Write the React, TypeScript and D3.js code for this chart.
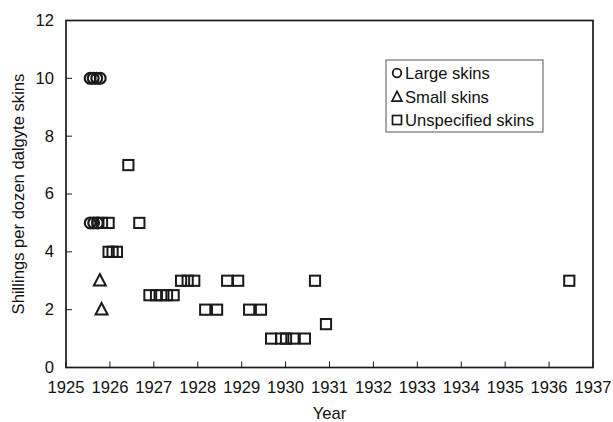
import React from "react";
import * as d3 from "d3";

const largeYears = [1925.55, 1925.62, 1925.7, 1925.78, 1925.55, 1925.63, 1925.72];
const largeValues = [10, 10, 10, 10, 5, 5, 5];

const smallYears = [1925.77, 1925.81];
const smallValues = [3, 2];

const unspecYears = [
  1925.72, 1925.82, 1925.97,
  1925.97, 1926.06, 1926.16,
  1926.42, 1926.67,
  1926.9, 1927.05, 1927.17, 1927.3, 1927.45,
  1927.62, 1927.77, 1927.92,
  1928.17, 1928.44,
  1928.67, 1928.92,
  1929.17, 1929.44,
  1929.67, 1929.9, 1930.01, 1930.18, 1930.44,
  1930.67, 1930.92,
  1936.46,
];
const unspecValues = [
  5, 5, 5,
  4, 4, 4,
  7, 5,
  2.5, 2.5, 2.5, 2.5, 2.5,
  3, 3, 3,
  2, 2,
  3, 3,
  2, 2,
  1, 1, 1, 1, 1,
  3, 1.5,
  3,
];

const xTicks = d3.range(1925, 1938, 1);
const yTicks = [0, 2, 4, 6, 8, 10, 12];
const legendLabels = ["Large skins", "Small skins", "Unspecified skins"];

const W = 613;
const H = 422;
const FONT = "'Liberation Sans', Arial, Helvetica, sans-serif";
const INK = "#1a1a1a";
const TXT = "#111";
const FS = 16.6;

export default function App() {
  const x = d3.scaleLinear().domain([1925, 1937]).range([66, 593]);
  const y = d3.scaleLinear().domain([0, 12]).range([367.5, 20.5]);
  const [x0, x1] = x.range();
  const [y0, y1] = y.range();

  const sq = 10.2;
  const tri = (cx: number, cy: number, s: number) => {
    const h = s * 0.9;
    return `M${cx},${cy - h * 0.62} L${cx + s / 2},${cy + h * 0.45} L${cx - s / 2},${cy + h * 0.45} Z`;
  };

  const legendX = 386;
  const legendY = 60;
  const legendRows = [73, 97, 120];

  return (
    <svg
      width={W}
      height={H}
      style={{ position: "absolute", left: 0, top: 0, background: "#fff" }}
      fontFamily={FONT}
    >
      <rect x={0} y={0} width={W} height={H} fill="#fff" />
      {/* frame */}
      <rect x={x0} y={y1} width={x1 - x0} height={y0 - y1} fill="none" stroke={INK} strokeWidth={1.7} />
      {/* y ticks */}
      {yTicks.map((t) => (
        <g key={"y" + t}>
          <line x1={x0} x2={x0 + 6} y1={y(t)} y2={y(t)} stroke={INK} strokeWidth={1} />
          <text x={x0 - 12} y={y(t)} dy="0.33em" textAnchor="end" fontSize={FS} fill={TXT}>
            {t}
          </text>
        </g>
      ))}
      {/* x ticks */}
      {xTicks.map((t) => (
        <g key={"x" + t}>
          <line x1={x(t)} x2={x(t)} y1={y0} y2={y0 - 6} stroke={INK} strokeWidth={1} />
          <text x={x(t)} y={y0 + 25} textAnchor="middle" fontSize={FS} fill={TXT}>
            {t}
          </text>
        </g>
      ))}
      <text x={(x0 + x1) / 2} y={419} textAnchor="middle" fontSize={FS} fill={TXT}>
        Year
      </text>
      <text
        transform={`translate(24,${(y0 + y1) / 2}) rotate(-90)`}
        textAnchor="middle"
        fontSize={FS}
        fill={TXT}
      >
        Shillings per dozen dalgyte skins
      </text>

      {/* unspecified squares */}
      {unspecYears.map((yr, i) => (
        <rect
          key={"u" + i}
          x={x(yr) - sq / 2}
          y={y(unspecValues[i]) - sq / 2}
          width={sq}
          height={sq}
          fill="none"
          stroke={INK}
          strokeWidth={2}
        />
      ))}
      {/* large circles */}
      {largeYears.map((yr, i) => (
        <circle
          key={"l" + i}
          cx={x(yr)}
          cy={y(largeValues[i])}
          r={5.4}
          fill="none"
          stroke={INK}
          strokeWidth={2.2}
        />
      ))}
      {/* small triangles */}
      {smallYears.map((yr, i) => (
        <path key={"s" + i} d={tri(x(yr), y(smallValues[i]), 12)} fill="none" stroke={INK} strokeWidth={2} />
      ))}

      {/* legend */}
      <rect x={legendX} y={legendY} width={157} height={72} fill="#fff" stroke="#555" strokeWidth={1} />
      <circle cx={397} cy={legendRows[0]} r={4.3} fill="none" stroke={INK} strokeWidth={1.8} />
      <path d={tri(397, legendRows[1], 10)} fill="none" stroke={INK} strokeWidth={1.7} />
      <rect x={392.5} y={legendRows[2] - 4.5} width={9} height={9} fill="none" stroke={INK} strokeWidth={1.7} />
      {legendLabels.map((l, i) => (
        <text key={l} x={405} y={legendRows[i]} dy="0.35em" fontSize={FS} fill={TXT}>
          {l}
        </text>
      ))}
    </svg>
  );
}
